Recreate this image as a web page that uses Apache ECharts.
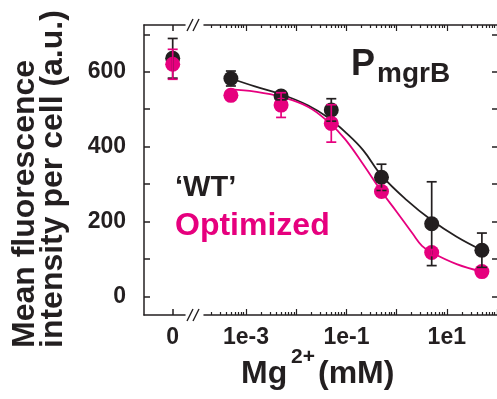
<!DOCTYPE html>
<html>
<head>
<meta charset="utf-8">
<script src="https://cdn.jsdelivr.net/npm/echarts@6/dist/echarts.min.js"></script>
<style>html,body{margin:0;padding:0;background:#fff}#c{width:497px;height:399px}</style>
</head>
<body>
<div id="c"></div>
<script>
// ---- data ----
const concentrations = [5e-4, 5e-3, 0.05, 0.5, 5, 50];      // Mg2+ (mM)
const wtMean  = [582, 535, 498, 318, 194, 123];
const wtErr   = [20, 10, 30, 35, 112, 46];
const optMean = [537, 511, 462, 280, 117, 66];
const optErr  = [8, 33, 50, 8, 8, 6];
const zeroConc = [0];
const wtZeroMean = [636], wtZeroErr = [53];
const optZeroMean = [620], optZeroErr = [40];
// fitted curves
const wtFitX  = [5e-4, 1.5e-3, 5e-3, 0.0174, 0.0436, 0.1, 0.217, 0.5, 1.59, 5, 15.7, 50];
const wtFitY  = [582, 561, 540, 510, 477, 436, 390, 323, 257, 203, 159, 123];
const optFitX = [5e-4, 1.5e-3, 5e-3, 0.0174, 0.0436, 0.094, 0.217, 0.5, 1.0, 2.15, 3.2, 5, 15.7, 50];
const optFitY = [553, 547, 533, 506, 466, 420, 352, 280, 226, 165, 135, 117, 86, 66];
const yTickLabels = [0, 200, 400, 600];
const yTickMarks = [0, 100, 200, 300, 400, 500, 600, 700];
const xTickLabelVals = [1e-3, 1e-1, 1e1];
const xTickLabelText = ['1e-3', '1e-1', '1e1'];
const xMajorTicks = [1e-3, 1e-2, 1e-1, 1, 10, 100];

const BLACK = '#231f20', PINK = '#e6007e';
const FONT = '"Liberation Sans", Arial, Helvetica, sans-serif';
const xMin = 1.4565e-4, xMax = 104.7;
const minorTicks = [];
for (let n = -4; n <= 2; n++) for (let k = 2; k <= 9; k++) {
  const v = k * Math.pow(10, n);
  if (v > xMin && v < xMax) minorTicks.push(v);
}

const zip = (xs, ys) => xs.map((x, i) => [x, ys[i]]);
const zip3 = (xs, ys, es) => xs.map((x, i) => [x, ys[i], es[i]]);

function errRender(color) {
  return function (params, api) {
    const x = api.value(0), y = api.value(1), e = api.value(2);
    const hi = api.coord([x, y + e]), lo = api.coord([x, y - e]);
    const hw = 5, st = { stroke: color, lineWidth: 1.7 };
    return { type: 'group', children: [
      { type: 'line', shape: { x1: hi[0], y1: hi[1], x2: lo[0], y2: lo[1] }, style: st },
      { type: 'line', shape: { x1: hi[0] - hw, y1: hi[1], x2: hi[0] + hw, y2: hi[1] }, style: st },
      { type: 'line', shape: { x1: lo[0] - hw, y1: lo[1], x2: lo[0] + hw, y2: lo[1] }, style: st }
    ]};
  };
}

const lineSt = { color: BLACK, width: 1.5 };
const labelSt = { fontFamily: FONT, fontWeight: 'bold', fontSize: 23, color: BLACK };

function xAxisA(pos, label) {
  return {
    type: 'value', gridIndex: 0, position: pos, min: -0.7, max: 0.3,
    axisLine: { show: true, onZero: false, lineStyle: lineSt },
    axisTick: { show: true, inside: true, length: 6, lineStyle: lineSt, customValues: zeroConc },
    axisLabel: label ? Object.assign({ show: true, margin: 11, customValues: zeroConc, formatter: () => '0' }, labelSt) : { show: false },
    splitLine: { show: false }
  };
}
function xAxisB(pos, kind) {
  const major = kind === 'major';
  return {
    type: 'log', logBase: 10, gridIndex: 1, position: pos, min: xMin, max: xMax,
    axisLine: { show: major, onZero: false, lineStyle: lineSt },
    axisTick: { show: true, inside: true, length: major ? 6 : 3, lineStyle: { color: BLACK, width: 1.2 },
                customValues: major ? xMajorTicks : minorTicks },
    axisLabel: (major && pos === 'bottom') ? Object.assign({ show: true, margin: 11, customValues: xTickLabelVals,
                formatter: v => { const i = xTickLabelVals.findIndex(t => Math.abs(Math.log10(t) - Math.log10(v)) < 1e-6); return i >= 0 ? xTickLabelText[i] : ''; } }, labelSt) : { show: false },
    splitLine: { show: false }, minorTick: { show: false }
  };
}

const option = {
  animation: false,
  backgroundColor: '#fff',
  grid: [
    { left: 144, top: 25, width: 41, height: 290, containLabel: false, outerBoundsMode: 'none' },
    { left: 204, top: 25, width: 294, height: 290, containLabel: false, outerBoundsMode: 'none' }
  ],
  xAxis: [
    xAxisA('bottom', true), xAxisA('top', false),
    xAxisB('bottom', 'major'), xAxisB('bottom', 'minor'),
    xAxisB('top', 'major'), xAxisB('top', 'minor')
  ],
  yAxis: [
    { type: 'value', gridIndex: 0, position: 'left', min: -50, max: 725,
      axisLine: { show: true, onZero: false, lineStyle: lineSt },
      axisTick: { show: true, inside: true, length: 6, lineStyle: lineSt, customValues: yTickMarks },
      axisLabel: Object.assign({ show: true, margin: 18, customValues: yTickLabels }, labelSt),
      splitLine: { show: false } },
    { type: 'value', gridIndex: 1, position: 'right', min: -50, max: 725,
      axisLine: { show: true, onZero: false, lineStyle: lineSt },
      axisTick: { show: true, inside: true, length: 6, lineStyle: lineSt, customValues: yTickMarks },
      axisLabel: { show: false }, splitLine: { show: false } }
  ],
  series: [
    { type: 'line', xAxisIndex: 2, yAxisIndex: 1, data: zip(wtFitX, wtFitY), smooth: 0.4, showSymbol: false,
      lineStyle: { color: BLACK, width: 1.8 }, z: 1 },
    { type: 'line', xAxisIndex: 2, yAxisIndex: 1, data: zip(optFitX, optFitY), smooth: 0.4, showSymbol: false,
      lineStyle: { color: PINK, width: 1.8 }, z: 1 },
    { type: 'scatter', xAxisIndex: 2, yAxisIndex: 1, data: zip(concentrations, wtMean), symbolSize: 15,
      itemStyle: { color: BLACK, opacity: 1 }, z: 2 },
    { type: 'scatter', xAxisIndex: 0, yAxisIndex: 0, data: zip(zeroConc, wtZeroMean), symbolSize: 15,
      itemStyle: { color: BLACK, opacity: 1 }, z: 2 },
    { type: 'scatter', xAxisIndex: 2, yAxisIndex: 1, data: zip(concentrations, optMean), symbolSize: 15,
      itemStyle: { color: PINK, opacity: 1 }, z: 3 },
    { type: 'scatter', xAxisIndex: 0, yAxisIndex: 0, data: zip(zeroConc, optZeroMean), symbolSize: 15,
      itemStyle: { color: PINK, opacity: 1 }, z: 3 },
    { type: 'custom', xAxisIndex: 2, yAxisIndex: 1, data: zip3(concentrations, wtMean, wtErr),
      encode: { x: 0, y: 1 }, renderItem: errRender(BLACK), z: 4 },
    { type: 'custom', xAxisIndex: 0, yAxisIndex: 0, data: zip3(zeroConc, wtZeroMean, wtZeroErr),
      encode: { x: 0, y: 1 }, renderItem: errRender(BLACK), z: 4 },
    { type: 'custom', xAxisIndex: 2, yAxisIndex: 1, data: zip3(concentrations, optMean, optErr),
      encode: { x: 0, y: 1 }, renderItem: errRender(PINK), z: 5 },
    { type: 'custom', xAxisIndex: 0, yAxisIndex: 0, data: zip3(zeroConc, optZeroMean, optZeroErr),
      encode: { x: 0, y: 1 }, renderItem: errRender(PINK), z: 5 }
  ],
  graphic: [
    // axis break marks
    { type: 'polyline', shape: { points: [[187, 31], [193, 19]] }, style: { stroke: BLACK, lineWidth: 1.4 } },
    { type: 'polyline', shape: { points: [[193, 31], [199, 19]] }, style: { stroke: BLACK, lineWidth: 1.4 } },
    { type: 'polyline', shape: { points: [[187, 321], [193, 309]] }, style: { stroke: BLACK, lineWidth: 1.4 } },
    { type: 'polyline', shape: { points: [[193, 321], [199, 309]] }, style: { stroke: BLACK, lineWidth: 1.4 } },
    // y axis title
    { type: 'text', x: 11, y: 348, rotation: Math.PI / 2,
      style: { text: 'Mean fluorescence\nintensity per cell (a.u.)', font: 'bold 32px ' + FONT, lineHeight: 28,
               fill: BLACK, align: 'left', verticalAlign: 'top' } },
    // x axis title
    { type: 'text', x: 241, y: 374, style: { text: 'Mg', font: 'bold 32px ' + FONT, fill: BLACK, align: 'left', verticalAlign: 'middle' } },
    { type: 'text', x: 291, y: 357, style: { text: '2+', font: 'bold 21px ' + FONT, fill: BLACK, align: 'left', verticalAlign: 'middle' } },
    { type: 'text', x: 318, y: 374, style: { text: '(mM)', font: 'bold 32px ' + FONT, fill: BLACK, align: 'left', verticalAlign: 'middle' } },
    // promoter label
    { type: 'text', x: 351, y: 65, style: { text: 'P', font: 'bold 36px ' + FONT, fill: BLACK, align: 'left', verticalAlign: 'middle' } },
    { type: 'text', x: 377, y: 74, style: { text: 'mgrB', font: 'bold 28px ' + FONT, fill: BLACK, align: 'left', verticalAlign: 'middle' } },
    // legend texts
    { type: 'text', x: 175, y: 188, style: { text: '\u2018WT\u2019', font: 'bold 29px ' + FONT, fill: BLACK, align: 'left', verticalAlign: 'middle' } },
    { type: 'text', x: 175, y: 226, style: { text: 'Optimized', font: 'bold 32px ' + FONT, fill: PINK, align: 'left', verticalAlign: 'middle' } }
  ]
};
const chart = echarts.init(document.getElementById('c'), null, { renderer: 'canvas' });
chart.setOption(option);
</script>
</body>
</html>
